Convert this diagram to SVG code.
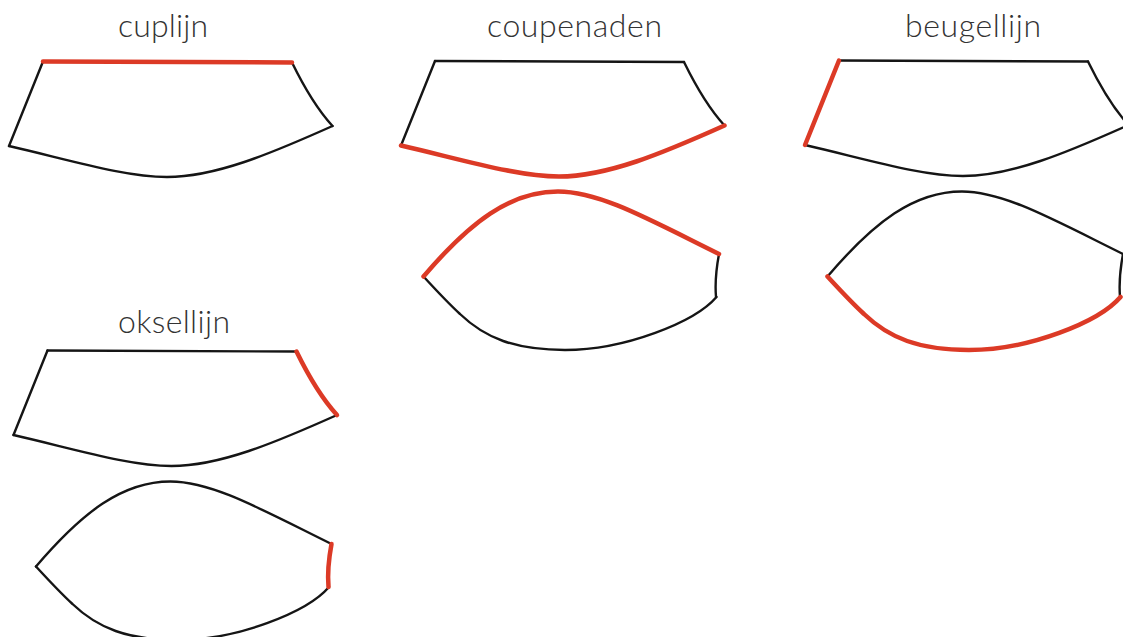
<svg xmlns="http://www.w3.org/2000/svg" width="1123" height="637" viewBox="0 0 1123 637">
<style>
.k{fill:none;stroke:#151515;stroke-width:2.4;stroke-linejoin:miter;stroke-linecap:round}
.r{fill:none;stroke:#dc3a26;stroke-width:4.5;stroke-linecap:round}
text{font-family:"Lato","Liberation Sans",sans-serif;font-weight:300;font-size:32px;fill:#333}
</style>
<defs>
<path id="ut" d="M43 61.500L292 62.500"/>
<path id="ua" d="M292 62.500C303 85 316 108 332.500 126"/>
<path id="ub" d="M332.500 126C270 154 215 177 167 177C125 177 70 160 9 146"/>
<path id="us" d="M9 146L43 61.500"/>
<path id="lt" d="M423.500 276.500C470 222 510 191.500 558 191.500C600 191.500 650 220 719 254"/>
<path id="la" d="M719 254C716 270 715 285 716 297"/>
<path id="lb" d="M716.500 297C695 322 625 350 565 350C515 350 485 338 460 314C448 303 435 289 423.500 276.500"/>
</defs>
<g id="cuplijn">
<text x="118" y="37" textLength="90" lengthAdjust="spacing">cuplijn</text>
<use href="#ua" class="k"/><use href="#ub" class="k"/><use href="#us" class="k"/><use href="#ut" class="r"/>
</g>
<g id="coupenaden">
<text x="487" y="37" textLength="175" lengthAdjust="spacing">coupenaden</text>
<g transform="translate(392 -0.500)"><use href="#ut" class="k"/><use href="#ua" class="k"/><use href="#us" class="k"/><use href="#ub" class="r"/></g>
<use href="#la" class="k"/><use href="#lb" class="k"/><use href="#lt" class="r"/>
</g>
<g id="beugellijn">
<text x="905" y="37" textLength="136" lengthAdjust="spacing">beugellijn</text>
<g transform="translate(796 -1)"><use href="#ut" class="k"/><use href="#ua" class="k"/><use href="#ub" class="k"/><use href="#us" class="r"/></g>
<g transform="translate(404 0)"><use href="#lt" class="k"/><use href="#la" class="k"/><use href="#lb" class="r"/></g>
</g>
<g id="oksellijn">
<text x="118" y="333" textLength="112" lengthAdjust="spacing">oksellijn</text>
<g transform="translate(4.500 289)"><use href="#ut" class="k"/><use href="#ub" class="k"/><use href="#us" class="k"/><use href="#ua" class="r"/></g>
<g transform="translate(-387.500 290)"><use href="#lt" class="k"/><use href="#lb" class="k"/><use href="#la" class="r"/></g>
</g>
<g id="connectors"/>
</svg>
